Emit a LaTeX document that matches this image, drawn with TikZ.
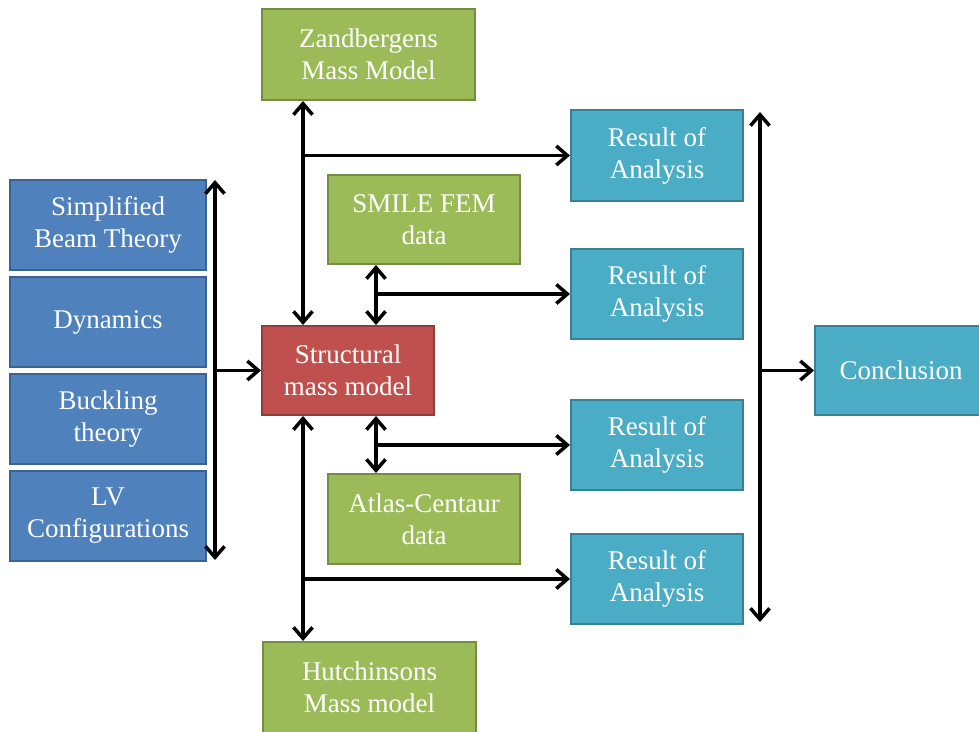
\documentclass[tikz,border=0pt]{standalone}
\usepackage{fontspec}
\setmainfont{Liberation Serif}
\usetikzlibrary{arrows.meta}

\definecolor{inblue}{HTML}{4F81BD}
\definecolor{inblueline}{HTML}{3A6394}
\definecolor{modgreen}{HTML}{9BBB59}
\definecolor{modgreenline}{HTML}{748C43}
\definecolor{corered}{HTML}{C0504D}
\definecolor{coreredline}{HTML}{903C3A}
\definecolor{outteal}{HTML}{4BACC6}
\definecolor{outtealline}{HTML}{388194}

\tikzset{
  box/.style={rectangle, line width=2pt, text=white, align=center,
    inner sep=0pt, font=\fontsize{27}{32}\selectfont},
  inbox/.style={box, fill=inblue, draw=inblueline, minimum width=196pt, minimum height=90pt},
  modbox/.style={box, fill=modgreen, draw=modgreenline},
  corebox/.style={box, fill=corered, draw=coreredline, minimum width=172pt, minimum height=89pt},
  outbox/.style={box, fill=outteal, draw=outtealline, minimum width=172pt, minimum height=90pt},
  tipshape/.style={Straight Barb[length=11pt,width=19pt,line width=3.5pt]},
  link/.style={line width=3.8pt, -{Straight Barb[length=11pt,width=19pt,line width=3.5pt]}},
  dlink/.style={line width=3.8pt, {Straight Barb[length=11pt,width=19pt,line width=3.5pt]}-{Straight Barb[length=11pt,width=19pt,line width=3.5pt]}}
}

\begin{document}
\begin{tikzpicture}[x=1pt,y=-1pt]
\useasboundingbox (0,0) rectangle (979,731);

% input topics
\node[inbox] (simp) at (108,225) {Simplified\\Beam Theory};
\node[inbox] (dyn)  at (108,322) {Dynamics};
\node[inbox] (buck) at (108,419) {Buckling\\theory};
\node[inbox] (lv)   at (108,516) {LV\\Configurations};

% mass models
\node[modbox, minimum width=213pt, minimum height=91pt] (zand)  at (368.5,54.5) {Zandbergens\\Mass Model};
\node[modbox, minimum width=192pt, minimum height=89pt] (smile) at (424,219.5) {SMILE FEM\\data};
\node[corebox] (struct) at (348,370.5) {Structural\\mass model};
\node[modbox, minimum width=192pt, minimum height=90pt] (atlas) at (424,519) {Atlas-Centaur\\data};
\node[modbox, minimum width=213pt, minimum height=91pt] (hutch) at (369.5,687.5) {Hutchinsons\\Mass model};

% results
\node[outbox, minimum height=91pt] (res1) at (657,155.5) {Result of\\Analysis};
\node[outbox] (res2) at (657,294) {Result of\\Analysis};
\node[outbox] (res3) at (657,445) {Result of\\Analysis};
\node[outbox] (res4) at (657,579) {Result of\\Analysis};
\node[outbox, minimum width=172pt, minimum height=89pt] (conc) at (901,370.5) {Conclusion};

% guide coordinates for the bus lines
\coordinate (lbusT) at (215,180);
\coordinate (lbusB) at (215,560);
\coordinate (lbusM) at (215,370.5);
\coordinate (outerx) at (303,0);
\coordinate (innerx) at (376,0);
\coordinate (b1) at (303,155.5);
\coordinate (b2) at (376,294);
\coordinate (b3) at (376,445);
\coordinate (b4) at (303,579);
\coordinate (rbusT) at (760,112);
\coordinate (rbusB) at (760,622);
\coordinate (rbusM) at (760,370.5);

% input bus into the structural model
\draw[dlink] (lbusB) -- (lbusT);
\draw[link] (lbusM) -- (struct.west);

% model exchanges
\draw[dlink] (zand.south -| outerx) -- (struct.north -| outerx);
\draw[link] (b1) -- (res1.west);
\draw[dlink] (smile.south -| innerx) -- (struct.north -| innerx);
\draw[link] (b2) -- (res2.west);
\draw[dlink] (struct.south -| innerx) -- (atlas.north -| innerx);
\draw[link] (b3) -- (res3.west);
\draw[dlink] (struct.south -| outerx) -- (hutch.north -| outerx);
\draw[link] (b4) -- (res4.west);

% output bus to the conclusion
\draw[dlink] (rbusB) -- (rbusT);
\draw[link] (rbusM) -- (conc.west);
\end{tikzpicture}
\end{document}
